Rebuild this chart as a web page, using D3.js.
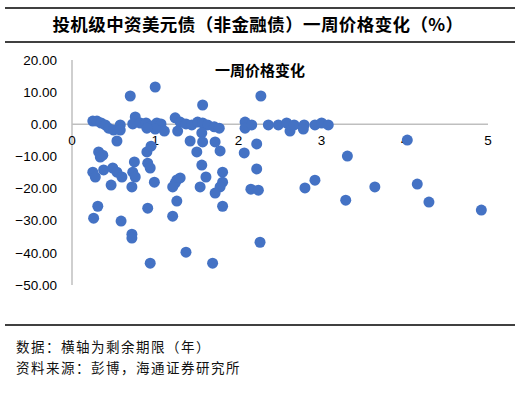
<!DOCTYPE html>
<html>
<head>
<meta charset="utf-8">
<script src="https://cdn.jsdelivr.net/npm/d3@7"></script>
<style>
  body { margin: 0; background: #fff; }
  svg { display: block; }
  .cn { font-family: "Noto Sans CJK SC", sans-serif; }
  .tick-label { font-family: "Liberation Sans", Arial, sans-serif; font-size: 13.5px; fill: #000; }
</style>
</head>
<body>
<svg id="chart" width="520" height="396"></svg>
<script>
// remaining maturity (years)
const maturity = [
  1.00, 0.70, 2.27, 1.57, 0.25, 0.30, 0.35, 0.40, 0.44, 0.50, 0.58, 0.58, 0.54,
  0.76, 0.73, 0.82, 0.89, 0.96, 1.02, 1.07, 1.11, 1.00, 0.90, 1.24, 1.30, 1.27,
  1.37, 1.44, 1.51, 1.57, 1.63, 1.71, 1.77, 1.56, 1.42, 1.57, 1.72, 1.50, 1.78,
  2.08, 2.08, 2.16, 2.36, 2.48, 2.58, 2.62, 2.67, 2.79, 2.78, 2.92, 3.00, 3.08,
  2.22, 2.07, 4.03, 3.31, 0.32, 0.37, 0.34, 0.75, 0.90, 0.95, 0.91, 1.56, 2.22,
  0.25, 0.28, 0.38, 0.49, 0.54, 0.60, 0.73, 0.76, 0.94, 0.47, 0.72, 0.99, 1.24,
  1.26, 1.30, 1.21, 1.54, 1.61, 1.81, 1.81, 1.78, 1.72, 2.15, 2.24, 2.80, 2.92,
  3.64, 4.15, 0.31, 0.26, 0.59, 0.91, 0.72, 0.72, 1.21, 1.26, 1.81, 1.37, 0.94,
  1.69, 2.26, 3.29, 4.29, 4.92
];
// one-week price change (%)
const priceChange = [
  11.6, 8.8, 8.8, 6.0, 1.0, 1.0, 0.4, -0.2, -1.2, -1.8, -0.2, -1.8, -5.2,
  2.3, 0.1, 0.4, 0.4, -0.5, 0.4, 0.1, -2.1, -1.5, -1.2, 2.0, 0.7, -2.1,
  0.1, -0.2, 0.7, 0.4, -0.2, -0.8, -1.2, -2.7, -5.2, -5.5, -5.5, -8.6, -8.3,
  0.7, -1.2, -0.2, -0.2, -0.2, 0.4, -2.1, -0.2, -0.2, -1.5, -0.2, 0.4, -0.2,
  -6.1, -8.9, -4.9, -9.9, -8.6, -9.6, -10.2, -11.7, -8.6, -6.8, -12.1, -12.7, -13.9,
  -14.9, -16.4, -14.2, -13.6, -14.9, -16.4, -14.9, -16.4, -13.6, -18.9, -19.5, -18.0, -18.3,
  -17.3, -16.7, -19.5, -19.5, -16.4, -14.9, -18.0, -19.5, -21.4, -20.2, -20.5, -19.8, -17.4,
  -19.5, -18.6, -25.5, -29.2, -30.1, -26.1, -34.2, -35.4, -28.6, -23.9, -25.5, -39.8, -43.2,
  -43.2, -36.7, -23.6, -24.2, -26.7
];

const xTicks = [0, 1, 2, 3, 4, 5];
const yTicks = [20, 10, 0, -10, -20, -30, -40, -50];

const titleText = '投机级中资美元债（非金融债）一周价格变化（%）';
const seriesName = '一周价格变化';
const notes = ['数据：横轴为剩余期限（年）', '资料来源：彭博，海通证券研究所'];

const svg = d3.select('#chart');

// header with two rules
svg.append('line').attr('x1', 5).attr('x2', 515).attr('y1', 8).attr('y2', 8)
  .attr('stroke', '#000').attr('stroke-width', 1.5);
svg.append('line').attr('x1', 5).attr('x2', 515).attr('y1', 42).attr('y2', 42)
  .attr('stroke', '#000').attr('stroke-width', 1.5);
svg.append('text')
  .attr('class', 'cn')
  .attr('x', 258).attr('y', 31)
  .attr('text-anchor', 'middle')
  .style('font-size', '17.5px').style('font-weight', 'bold')
  .style('letter-spacing', '0.4px')
  .text(titleText);

// scales
const x = d3.scaleLinear().domain([0, 5]).range([72, 488]);
const y = d3.scaleLinear().domain([-50, 20]).range([285, 60]);

// axes lines (no tick marks)
svg.append('line')
  .attr('x1', x(0)).attr('x2', x(0)).attr('y1', y(20)).attr('y2', y(-50))
  .attr('stroke', '#bfbfbf').attr('stroke-width', 1.5);
svg.append('line')
  .attr('x1', x(0)).attr('x2', x(5)).attr('y1', y(0)).attr('y2', y(0))
  .attr('stroke', '#bfbfbf').attr('stroke-width', 1.5);

// y tick labels
svg.selectAll('.ylab')
  .data(yTicks)
  .enter().append('text')
  .attr('class', 'tick-label')
  .attr('x', 57)
  .attr('y', d => y(d))
  .attr('dy', '0.35em')
  .attr('text-anchor', 'end')
  .text(d => d3.format('.2f')(d));

// x tick labels, sitting below the zero line
svg.selectAll('.xlab')
  .data(xTicks)
  .enter().append('text')
  .attr('class', 'tick-label')
  .attr('x', d => x(d))
  .attr('y', y(0) + 16)
  .attr('dy', '0.35em')
  .attr('text-anchor', 'middle')
  .text(d => d);

// series title
svg.append('text')
  .attr('class', 'cn')
  .attr('x', 260).attr('y', 76)
  .attr('text-anchor', 'middle')
  .style('font-size', '15px').style('font-weight', 'bold')
  .text(seriesName);

// points
svg.selectAll('.dot')
  .data(d3.range(maturity.length))
  .enter().append('circle')
  .attr('class', 'dot')
  .attr('cx', i => x(maturity[i]))
  .attr('cy', i => y(priceChange[i]))
  .attr('r', 5.5)
  .attr('fill', '#4472c4');

// footer
svg.append('line').attr('x1', 5).attr('x2', 515).attr('y1', 325).attr('y2', 325)
  .attr('stroke', '#000').attr('stroke-width', 1.5);
svg.selectAll('.note')
  .data(notes)
  .enter().append('text')
  .attr('class', 'cn')
  .attr('x', 16)
  .attr('y', (d, i) => 352 + i * 21)
  .style('font-size', '13.5px')
  .style('letter-spacing', '1.5px')
  .attr('fill', '#111')
  .text(d => d);
</script>
</body>
</html>
